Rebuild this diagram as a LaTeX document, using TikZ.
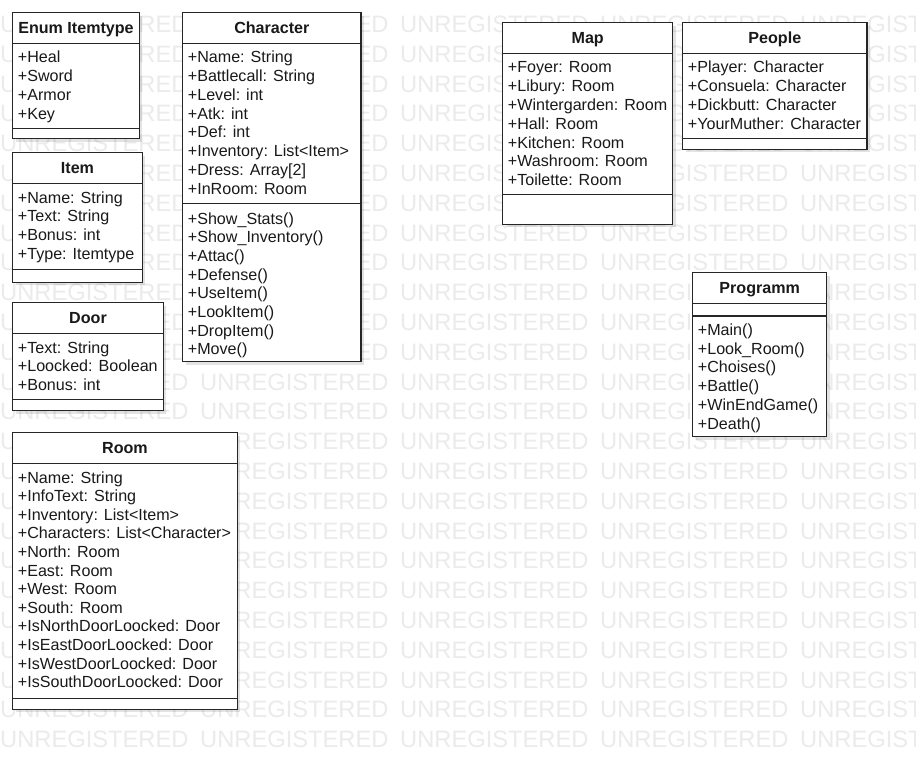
\documentclass[tikz,border=0pt]{standalone}
\usepackage{fontspec}
\setmainfont{Liberation Sans}
\newcommand\rowfont{\fontsize{16.1}{18.7}\selectfont}
\newcommand\wmfont{\fontsize{23.7}{26}\selectfont}
\tikzset{
  row/.style={anchor=base west, inner sep=0pt, font=\rowfont, text=black!90},
  ttl/.style={anchor=base, inner sep=0pt, font=\rowfont\bfseries, text=black!90},
  boxline/.style={draw=black!85, line width=1.2pt, fill=white},
  sepline/.style={draw=black!85, line width=1.2pt},
  shadowc/.style={fill=black, opacity=0.11},
  wm/.style={anchor=base west, inner sep=0pt, font=\wmfont, text=black!8}
}
% #1 id, #2 x1, #3 y1, #4 x2, #5 sep y, #6 y2, #7 title
\newcommand\umlclass[7]{%
  \fill[shadowc, shift={(3,3)}] (#2,#3) rectangle (#4,#6);
  \draw[boxline] (#2,#3) rectangle (#4,#6);
  \draw[sepline] (#2,{#3+30.6}) -- (#4,{#3+30.6});
  \draw[sepline] (#2,#5) -- (#4,#5);
  \node[ttl] (#1-title) at ({(#2+#4)/2},{#3+20.6}) {#7};
}
\begin{document}
\begin{tikzpicture}[x=1pt,y=-1pt]
\useasboundingbox (0,0) rectangle (916,760);
\fill[white] (0,0) rectangle (916,760);
% watermark
\begin{scope}
\clip (0,0) rectangle (916,760);
\foreach \r in {0,...,24}{
  \foreach \c in {0,...,4}{
    \node[wm] (wm-\r-\c) at ({\c*200},{32.5+\r*29.8}) {UNREGISTERED};
  }
}
\end{scope}

% Enum Itemtype
\umlclass{enum}{12.7}{12.7}{139.3}{128.3}{138.7}{Enum Itemtype}
\foreach \t [count=\i] in {+Heal,+Sword,+Armor,+Key}
  \node[row] (enum-a\i) at (17.7,{62.8+(\i-1)*18.75}) {\t};

% Character
\umlclass{char}{182.7}{12.7}{361}{203.3}{361.7}{Character}
\foreach \t [count=\i] in {{+Name: String},{+Battlecall: String},{+Level: int},{+Atk: int},{+Def: int},{+Inventory: List<Item>},{+Dress: Array[2]},{+InRoom: Room}}
  \node[row] (char-a\i) at (187.7,{62.8+(\i-1)*18.75}) {\t};
\foreach \t [count=\i] in {{+Show\_Stats()},{+Show\_Inventory()},{+Attac()},{+Defense()},{+UseItem()},{+LookItem()},{+DropItem()},{+Move()}}
  \node[row] (char-m\i) at (187.7,{224+(\i-1)*18.7}) {\t};

% Item
\umlclass{item}{12.7}{152.7}{142.3}{269.3}{282.3}{Item}
\foreach \t [count=\i] in {{+Name: String},{+Text: String},{+Bonus: int},{+Type: Itemtype}}
  \node[row] (item-a\i) at (17.7,{203+(\i-1)*18.75}) {\t};

% Door
\umlclass{door}{12.7}{302.7}{163.3}{399.3}{410.7}{Door}
\foreach \t [count=\i] in {{+Text: String},{+Loocked: Boolean},{+Bonus: int}}
  \node[row] (door-a\i) at (17.7,{353+(\i-1)*18.75}) {\t};

% Room
\umlclass{room}{12.7}{432.7}{237.3}{698.3}{709.3}{Room}
\foreach \t [count=\i] in {{+Name: String},{+InfoText: String},{+Inventory: List<Item>},{+Characters: List<Character>},{+North: Room},{+East: Room},{+West: Room},{+South: Room},{+IsNorthDoorLoocked: Door},{+IsEastDoorLoocked: Door},{+IsWestDoorLoocked: Door},{+IsSouthDoorLoocked: Door}}
  \node[row] (room-a\i) at (17.7,{483+(\i-1)*18.62}) {\t};

% Map
\umlclass{map}{502.7}{22.7}{672.7}{194.3}{224.3}{Map}
\foreach \t [count=\i] in {{+Foyer: Room},{+Libury: Room},{+Wintergarden: Room},{+Hall: Room},{+Kitchen: Room},{+Washroom: Room},{+Toilette: Room}}
  \node[row] (map-a\i) at (507.7,{73+(\i-1)*18.75}) {\t};

% People
\umlclass{people}{682.7}{22.7}{867}{138.3}{149.3}{People}
\foreach \t [count=\i] in {{+Player: Character},{+Consuela: Character},{+Dickbutt: Character},{+YourMuther: Character}}
  \node[row] (people-a\i) at (687.7,{73+(\i-1)*18.75}) {\t};

% Programm
\umlclass{prog}{692.7}{272.7}{826.7}{316}{436.7}{Programm}
\foreach \t [count=\i] in {{+Main()},{+Look\_Room()},{+Choises()},{+Battle()},{+WinEndGame()},{+Death()}}
  \node[row] (prog-m\i) at (697.7,{335.5+(\i-1)*18.7}) {\t};
\end{tikzpicture}
\end{document}
